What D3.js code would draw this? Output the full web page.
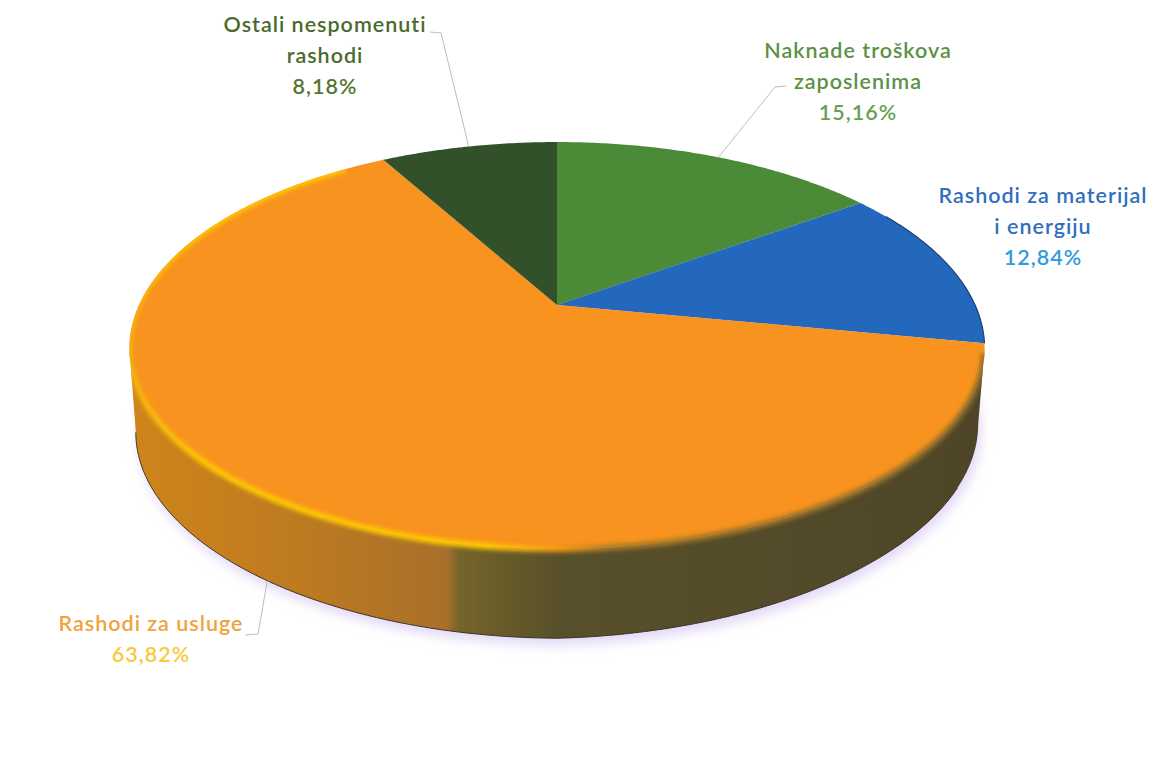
<!DOCTYPE html>
<html>
<head>
<meta charset="utf-8">
<script src="https://cdn.jsdelivr.net/npm/d3@7"></script>
<style>
  body { margin: 0; background: #fff; }
  text { font-family: Lato, "Open Sans", sans-serif; font-weight: 600; font-size: 21.5px; letter-spacing: 1px; text-anchor: middle; }
</style>
</head>
<body>
<div id="chart"></div>
<script>
// values, clockwise from the top
const names = ["Naknade troškova zaposlenima", "Rashodi za materijal i energiju", "Rashodi za usluge", "Ostali nespomenuti rashodi"];
const shares = [15.16, 12.84, 63.82, 8.18];
const shareLabels = ["15,16%", "12,84%", "63,82%", "8,18%"];
const labelLines = [["Naknade troškova", "zaposlenima"], ["Rashodi za materijal", "i energiju"], ["Rashodi za usluge"], ["Ostali nespomenuti", "rashodi"]];

const topColors = ["#4b8a36", "#2468bd", "#f7931e", "#32502a"];
const nameColors = ["#5b9145", "#2f6fbd", "#f0a23c", "#4a6a2c"];
const valueColors = ["#68a052", "#2f9ae0", "#f9c93a", "#56752f"];

const width = 1159;
const height = 766;

// perspective of the disc
const cx = 557, cy = 305, A = 418, B = 197.3, k = 0.2107;
const baseY = 392, baseScale = 0.985;

const svg = d3.select("#chart").append("svg")
    .attr("width", width)
    .attr("height", height)
    .attr("viewBox", [0, 0, width, height]);

const pie = d3.pie().sort(null).value(d => d);
const arcs = pie(shares);

function topPoint(t) {
    const u = Math.sin(t), v = -Math.cos(t), w = 1 - k * v;
    // the front of the rim is a little flatter than a true ellipse
    const flat = v > 0 ? 6 * v * v : 0;
    return [cx + A * u / w, cy + B * v / w - flat];
}
function basePoint(t) {
    const u = Math.sin(t), v = -Math.cos(t), w = 1 - k * v;
    const x = cx + baseScale * A * u / w;
    const lift = x > cx ? 0.025 * (x - cx) : 0.006 * (cx - x);
    return [x, baseY + baseScale * B * v / w - lift];
}
function sweep(a0, a1, f) {
    const n = Math.max(2, Math.ceil((a1 - a0) / 0.01));
    return d3.range(n + 1).map(i => f(a0 + (a1 - a0) * i / n));
}
const line = d3.line();
// angles where the disc outline turns away from the viewer
const lo = Math.acos(-k), hi = 2 * Math.PI - lo;

const defs = svg.append("defs");

const sideGrad = defs.append("linearGradient")
    .attr("id", "sideGrad").attr("gradientUnits", "userSpaceOnUse")
    .attr("x1", 130).attr("x2", 985).attr("y1", 0).attr("y2", 0);
[[0, "#cf851a"], [0.2, "#bd7a20"], [0.37, "#a9702a"], [0.385, "#75642a"], [0.5, "#58502a"], [1, "#4e4528"]]
    .forEach(s => sideGrad.append("stop").attr("offset", s[0]).attr("stop-color", s[1]));

const rimGrad = defs.append("linearGradient")
    .attr("id", "rimGrad").attr("gradientUnits", "userSpaceOnUse")
    .attr("x1", 130).attr("x2", 985).attr("y1", 0).attr("y2", 0);
[[0, "#f5b210"], [0.08, "#ffc800"], [0.42, "#ffcc00"], [0.5, "#f59a14"], [0.56, "#a87a28"], [1, "#8a6a2a"]]
    .forEach(s => rimGrad.append("stop").attr("offset", s[0]).attr("stop-color", s[1]));

defs.append("filter").attr("id", "soft").attr("x", "-5%").attr("y", "-5%").attr("width", "110%").attr("height", "110%")
    .append("feGaussianBlur").attr("stdDeviation", 2.2);
defs.append("filter").attr("id", "shadow").attr("x", "-10%").attr("y", "-10%").attr("width", "120%").attr("height", "120%")
    .append("feGaussianBlur").attr("stdDeviation", 6);

const outline = sweep(0, 2 * Math.PI, topPoint);
const silhouette = line(outline) + "Z" + line(sweep(lo, hi, basePoint).concat(sweep(lo, hi, topPoint).reverse())) + "Z";
defs.append("clipPath").attr("id", "discClip").append("path").attr("d", silhouette);

// lavender shadow under the base
svg.append("path")
    .attr("d", line(sweep(0, 2 * Math.PI, basePoint)) + "Z")
    .attr("transform", "translate(3,7)")
    .attr("fill", "#e2d8f6")
    .attr("filter", "url(#shadow)");

// side wall, only the part facing the viewer
arcs.forEach((d, i) => {
    const a0 = Math.max(d.startAngle, lo), a1 = Math.min(d.endAngle, hi);
    if (a1 <= a0) return;
    svg.append("path")
        .attr("d", line(sweep(a0, a1, topPoint).concat(sweep(a0, a1, basePoint).reverse())) + "Z")
        .attr("fill", i === 2 ? "url(#sideGrad)" : "#2a3d5c");
});
// dark line under the wall
svg.append("path")
    .attr("d", line(sweep(lo + 0.3, hi, basePoint)))
    .attr("fill", "none").attr("stroke", "#3a342a").attr("stroke-width", 1);

// top of the disc
svg.append("g").selectAll("path")
    .data(arcs)
    .join("path")
    .attr("d", d => line([[cx, cy]].concat(sweep(d.startAngle, d.endAngle, topPoint))) + "Z")
    .attr("fill", (d, i) => topColors[i]);

// soft rim between the top and the wall
svg.append("g").attr("clip-path", "url(#discClip)")
  .append("path")
    .attr("d", line(sweep(arcs[2].startAngle + 0.05, arcs[2].endAngle - 0.12, topPoint)))
    .attr("fill", "none")
    .attr("stroke", "url(#rimGrad)")
    .attr("stroke-width", 6)
    .attr("filter", "url(#soft)");

// dark blue edge on the right of the top
svg.append("path")
    .attr("d", line(sweep(arcs[1].startAngle + 0.1, arcs[1].endAngle, topPoint)))
    .attr("fill", "none").attr("stroke", "#1d3f6e").attr("stroke-width", 1.2);

// leader lines, from the slice middle to the label
const leaderEnds = [[[775, 87], [786, 86]], null, [[258, 634], [245, 635]], [[441, 33], [430, 32]]];
arcs.forEach((d, i) => {
    if (!leaderEnds[i]) return;
    const mid = (d.startAngle + d.endAngle) / 2;
    const start = i === 2 ? basePoint(mid) : topPoint(mid);
    svg.append("path")
        .attr("d", line([start].concat(leaderEnds[i])))
        .attr("fill", "none").attr("stroke", "#bdbdbd").attr("stroke-width", 1);
});

// labels
const labelX = [858, 1043, 151, 325];
const labelY = [58, 203, 631, 32];
const labelSpacing = [1.2, 1, 1, 1];
const labelWeight = [600, 500, 600, 700];
const lineStep = 31;
arcs.forEach((d, i) => {
    const g = svg.append("g").attr("transform", `translate(${labelX[i]},${labelY[i]})`)
        .style("letter-spacing", labelSpacing[i] + "px")
        .style("font-weight", labelWeight[i]);
    labelLines[i].forEach((t, j) => {
        g.append("text").attr("y", j * lineStep).attr("fill", nameColors[i]).text(t);
    });
    g.append("text").attr("y", labelLines[i].length * lineStep).attr("fill", valueColors[i]).text(shareLabels[i]);
});
</script>
</body>
</html>
